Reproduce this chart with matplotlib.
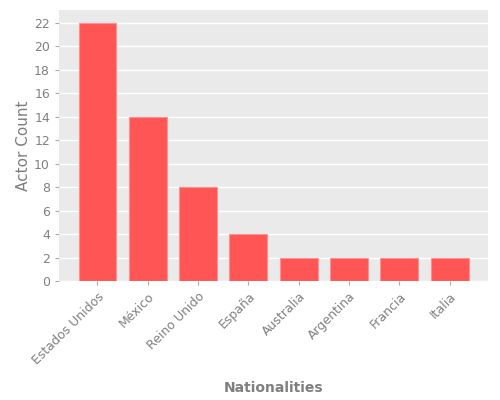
import matplotlib
matplotlib.use("Agg")
import matplotlib.pyplot as plt

nationalities = ["Estados Unidos", "México", "Reino Unido", "España",
                 "Australia", "Argentina", "Francia", "Italia"]
actor_counts = [22, 14, 8, 4, 2, 2, 2, 2]

fig = plt.figure(figsize=(5, 4), dpi=100)
ax = fig.add_axes([0.118, 0.2975, 0.858, 0.6775])
ax.set_facecolor("#eaeaea")
ax.bar(range(len(nationalities)), actor_counts, width=0.75,
       color="#ff5555", edgecolor="#ff9090", linewidth=0.8, zorder=3)

ax.set_yticks(range(0, 23, 2))
ax.set_xticks(range(len(nationalities)))
ax.set_xticklabels(nationalities, rotation=45, ha="right", rotation_mode="anchor")
ax.tick_params(colors="#aaaaaa", labelcolor="#808080", labelsize=9, length=3)
ax.grid(axis="y", color="white", linewidth=1, zorder=0)
ax.set_axisbelow(True)
for s in ax.spines.values():
    s.set_visible(False)

ax.set_ylabel("Actor Count", color="#7f7f7f", fontsize=11, labelpad=2)
ax.set_xlabel("Nationalities", color="#7f7f7f", fontsize=10, fontweight="bold", labelpad=10)

fig.savefig("out.png", dpi=100)
